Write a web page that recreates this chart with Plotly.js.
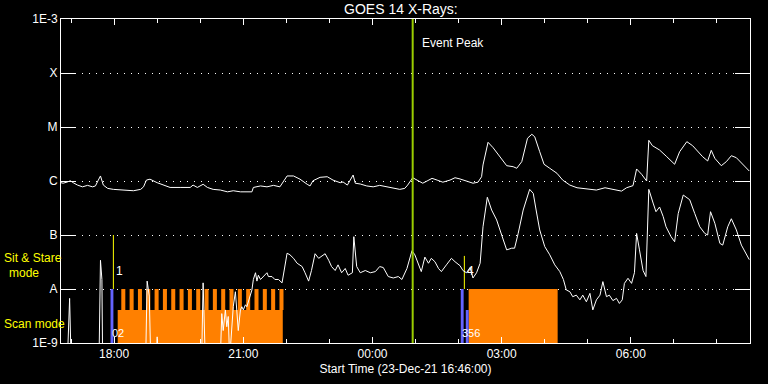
<!DOCTYPE html>
<html><head><meta charset="utf-8">
<script src="https://cdn.plot.ly/plotly-3.0.1.min.js"></script>
<style>html,body{margin:0;padding:0;background:#000;}#chart{width:768px;height:384px;}</style>
</head><body><div id="chart"></div>
<script>
// GOES 14 long channel (1-8 A), W/m^2
const longTimes = ['16:46','16:49','16:55','16:59','17:03','17:09','17:16','17:23','17:30','17:34',
 '17:38','17:41','17:45','17:51','17:59','18:09','18:18','18:27','18:37','18:41',
 '18:45','18:50','19:00','19:09','19:18','19:32','19:46','19:50','19:56','20:04',
 '20:10','20:18','20:28','20:38','20:46','20:56','21:05','21:12','21:14','21:24',
 '21:33','21:42','21:51','22:01','22:10','22:19','22:29','22:33','22:37','22:47',
 '22:57','23:05','23:15','23:19','23:25','23:33','23:36','23:43','23:52','00:01',
 '00:10','00:20','00:29','00:38','00:45','00:49','00:56','01:03','01:10','01:16',
 '01:23','01:30','01:38','01:48','01:55','02:02','02:12','02:20','02:27','02:32',
 '02:34','02:41','02:48','02:57','03:07','03:16','03:21','03:28','03:32','03:36',
 '03:42','03:46','03:53','03:59','04:07','04:17','04:25','04:35','04:45','04:58',
 '05:12','05:24','05:35','05:47','05:54','06:03','06:08','06:15','06:22','06:25',
 '06:30','06:40','06:50','07:01','07:08','07:18','07:26','07:40','07:47','07:52',
 '07:57','08:06','08:13','08:20','08:27','08:36','08:45'];
const longFlux = [9.3e-7,9.1e-7,9.6e-7,1.01e-6,9.3e-7,8.4e-7,7.8e-7,8.3e-7,7.8e-7,8.1e-7,
 1.04e-6,1.24e-6,8.4e-7,7.3e-7,7.0e-7,6.8e-7,6.6e-7,6.6e-7,7.0e-7,7.8e-7,
 1.04e-6,1.08e-6,9.3e-7,8.4e-7,7.6e-7,7.6e-7,7.6e-7,8.4e-7,7.6e-7,8.7e-7,
 7.6e-7,7.0e-7,6.8e-7,6.3e-7,6.6e-7,6.3e-7,6.3e-7,6.3e-7,7.6e-7,8.1e-7,
 7.8e-7,8.3e-7,7.8e-7,1.24e-6,1.24e-6,1.08e-6,8.7e-7,8.1e-7,1.01e-6,1.17e-6,
 1.20e-6,1.04e-6,9.3e-7,9.6e-7,8.4e-7,1.29e-6,9.1e-7,8.8e-7,8.1e-7,7.8e-7,
 8.3e-7,7.8e-7,7.3e-7,7.0e-7,7.3e-7,8.4e-7,1.15e-6,1.04e-6,9.1e-7,1.0e-6,
 1.12e-6,1.04e-6,9.5e-7,1.04e-6,1.15e-6,1.09e-6,9.8e-7,9.1e-7,9.5e-7,1.20e-6,
 1.98e-6,5.21e-6,4.14e-6,2.82e-6,1.92e-6,1.84e-6,1.72e-6,2.28e-6,4.03e-6,6.2e-6,
 7.33e-6,6.61e-6,3.49e-6,2.04e-6,1.72e-6,1.39e-6,1.04e-6,8.4e-7,7.5e-7,7.1e-7,
 6.8e-7,7.5e-7,6.9e-7,6.5e-7,7.5e-7,8.2e-7,1.67e-6,1.33e-6,1.0e-6,5.67e-6,
 4.51e-6,3.75e-6,2.82e-6,2.04e-6,3.49e-6,5.35e-6,4.51e-6,2.82e-6,2.35e-6,3.70e-6,
 2.63e-6,1.92e-6,2.28e-6,2.94e-6,2.70e-6,2.04e-6,1.53e-6];

// GOES 14 short channel (0.5-4 A), W/m^2
const shortTimes = ['16:46','16:55','16:58','17:00','17:39','17:41','17:43','17:44','18:44','18:46',
 '18:49','18:51','18:59','19:00','19:01','20:02','20:04','20:07','20:28','20:30',
 '20:32','20:35','20:37','20:39','20:41','20:46','20:49','20:51','20:53','20:56',
 '20:58','21:00','21:03','21:05','21:07','21:10','21:12','21:14','21:17','21:19',
 '21:21','21:24','21:28','21:33','21:35','21:40','21:44','21:49','21:54','22:01',
 '22:05','22:10','22:15','22:22','22:26','22:31','22:35','22:40','22:45','22:49',
 '22:54','22:59','23:03','23:08','23:12','23:17','23:22','23:26','23:32','23:34',
 '23:38','23:43','23:50','23:57','00:04','00:10','00:15','00:22','00:29','00:36',
 '00:41','00:48','00:55','00:59','01:04','01:08','01:13','01:18','01:22','01:27',
 '01:32','01:36','01:43','01:50','01:55','02:02','02:06','02:11','02:16','02:20',
 '02:25','02:30','02:34','02:40','02:46','02:53','03:00','03:07','03:14','03:18',
 '03:23','03:30','03:39','03:44','03:48','03:53','04:00','04:07','04:14','04:21',
 '04:26','04:30','04:35','04:39','04:44','04:49','04:53','04:58','05:03','05:07',
 '05:12','05:17','05:21','05:26','05:30','05:35','05:40','05:44','05:48','05:51',
 '05:56','06:01','06:05','06:08','06:12','06:17','06:21','06:25','06:31','06:35',
 '06:40','06:45','06:49','06:56','07:01','07:06','07:13','07:22','07:29','07:36',
 '07:43','07:47','07:51','07:57','08:04','08:08','08:15','08:20','08:27','08:34',
 '08:45'];
const shortFlux = [5e-10,5e-10,6.7e-9,5e-10,5e-10,3.4e-8,1.5e-8,5e-10,5e-10,1.4e-8,
 7.4e-9,5e-10,5e-10,1.3e-9,5e-10,5e-10,1.3e-8,5e-10,5e-10,3.5e-9,
 1.7e-9,4.1e-9,2.0e-9,3.1e-9,5e-10,4.7e-9,8.9e-9,4.1e-9,1.7e-9,4.1e-9,
 4.7e-9,4.1e-9,5.1e-9,4.7e-9,5.8e-9,7.2e-9,9.6e-9,1.5e-8,2.0e-8,1.4e-8,
 1.8e-8,1.5e-8,1.7e-8,2.0e-8,1.7e-8,1.7e-8,1.5e-8,1.5e-8,1.3e-8,4.6e-8,
 4.3e-8,3.7e-8,3.0e-8,2.6e-8,2.0e-8,1.4e-8,2.2e-8,4.5e-8,3.7e-8,4.0e-8,
 4.5e-8,3.4e-8,2.6e-8,2.2e-8,2.8e-8,2.0e-8,2.4e-8,1.8e-8,2.0e-8,9.3e-8,
 2.6e-8,2.0e-8,2.2e-8,2.0e-8,2.1e-8,2.6e-8,2.5e-8,1.7e-8,1.6e-8,1.7e-8,
 1.5e-8,2.4e-8,5.1e-8,4.3e-8,3.0e-8,2.1e-8,3.9e-8,3.0e-8,3.7e-8,3.2e-8,
 2.4e-8,2.1e-8,2.8e-8,3.7e-8,3.2e-8,2.7e-8,2.2e-8,2.0e-8,2.5e-8,1.6e-8,
 2.0e-8,3.0e-8,1.42e-7,5.0e-7,2.9e-7,1.9e-7,1.0e-7,5.3e-8,5.7e-8,5.7e-8,
 1.07e-7,2.9e-7,7.0e-7,5.9e-7,2.9e-7,1.24e-7,6.1e-8,4.3e-8,2.8e-8,2.1e-8,
 1.5e-8,9.6e-9,8.9e-9,7.2e-9,7.7e-9,6.3e-9,7.7e-9,5.8e-9,8.3e-9,4.1e-9,
 6.3e-9,7.7e-9,1.37e-8,7.2e-9,7.7e-9,6.1e-9,6.7e-9,5.4e-9,6.3e-9,1.27e-8,
 1.58e-8,1.27e-8,2.0e-8,1.07e-7,5.3e-8,2.2e-8,1.7e-8,7.0e-7,3.9e-7,2.7e-7,
 3.3e-7,2.2e-7,1.42e-7,9.3e-8,7.5e-8,2.5e-7,5.5e-7,4.5e-7,2.5e-7,1.42e-7,
 1.07e-7,1.0e-7,2.7e-7,1.65e-7,7.0e-8,6.5e-8,1.42e-7,2.0e-7,1.24e-7,6.5e-8,
 3.5e-8];

// observing modes
const scanStart = ['18:05','02:14'];
const scanEnd   = ['21:55','04:18'];
const stareStart = ['18:10:00','18:21:36','18:33:12','18:44:48','18:56:24','19:08:00','19:19:36','19:31:12','19:42:48','19:54:24',
 '20:06:00','20:17:36','20:29:12','20:40:48','20:52:24','21:04:00','21:15:36','21:27:12','21:38:48','21:50:24','02:14:00'];
const stareEnd = ['18:15:36','18:27:12','18:38:48','18:50:24','19:02:00','19:13:36','19:25:12','19:36:48','19:48:24','20:00:00',
 '20:11:36','20:23:12','20:34:48','20:46:24','20:58:00','21:09:36','21:21:12','21:32:48','21:44:24','21:56:00','04:18:00'];
const bandLow = 1e-9, scanHigh = 4.1e-9, stareHigh = 1e-8;
const slewStart = ['17:55','02:03','02:10'];
const slewEnd   = ['17:59','02:07','02:14'];
const slewTop   = [1e-8, 1e-8, 4.1e-9];
const markTimes  = ['17:59','02:08'];
const markTop    = [1e-7, 4.1e-8];
const markLabels = ['1','4'];
const eventTimes  = ['17:55','02:03'];
const eventLabels = ['02','356'];
const peakTime = '00:56';
const yTickVals = [1e-9,1e-8,1e-7,1e-6,1e-5,1e-4,1e-3];
const yTickText = ['1E-9','A','B','C','M','X','1E-3'];

function toDate(t){
  const h = parseInt(t.slice(0,2),10);
  const s = t.length === 5 ? t + ':00' : t;
  return (h >= 12 ? '2021-12-23 ' : '2021-12-24 ') + s;
}
function rects(starts, ends, lows, highs){
  const x = [], y = [];
  starts.forEach((s,i)=>{
    const a = toDate(s), b = toDate(ends[i]);
    const lo = Array.isArray(lows) ? lows[i] : lows;
    const hi = Array.isArray(highs) ? highs[i] : highs;
    x.push(a,a,b,b,a,null); y.push(lo,hi,hi,lo,lo,null);
  });
  return {x, y};
}
const FONT = 'Liberation Sans, Arial, sans-serif';
const scanR = rects(scanStart, scanEnd, bandLow, scanHigh);
const stareR = rects(stareStart, stareEnd, scanHigh, stareHigh);
const slewR = rects(slewStart, slewEnd, bandLow, slewTop);
const markX = [], markY = [];
markTimes.forEach((t,i)=>{ markX.push(toDate(t),toDate(t),null); markY.push(stareHigh, markTop[i], null); });

const traces = [
  {x: scanR.x, y: scanR.y, mode:'lines', fill:'toself', fillcolor:'#ff8000', line:{width:0,color:'#ff8000'}, hoverinfo:'skip'},
  {x: stareR.x, y: stareR.y, mode:'lines', fill:'toself', fillcolor:'#ff8000', line:{width:0,color:'#ff8000'}, hoverinfo:'skip'},
  {x: slewR.x, y: slewR.y, mode:'lines', fill:'toself', fillcolor:'#6464ff', line:{width:0,color:'#6464ff'}, hoverinfo:'skip'},
  {x: markX, y: markY, mode:'lines', line:{color:'#ffff00', width:1}},
  {x: longTimes.map(toDate), y: longFlux, mode:'lines', line:{color:'#ffffff', width:1}},
  {x: shortTimes.map(toDate), y: shortFlux, mode:'lines', line:{color:'#ffffff', width:1}},
  {x: [toDate(peakTime), toDate(peakTime)], y: [1e-9, 1e-3], mode:'lines', line:{color:'#9acd00', width:2}}
];

const ann = [
  {text:'Event Peak', x: toDate('01:06'), y: 0.926, xref:'x', yref:'paper', xanchor:'left', yanchor:'middle', showarrow:false, font:{family:FONT,size:12,color:'#fff'}},
  {text:'Sit & Stare', x: -0.086, y: 0.262, xref:'paper', yref:'paper', xanchor:'left', yanchor:'middle', showarrow:false, font:{family:FONT,size:12,color:'#ffff00'}},
  {text:'mode', x: -0.054, y: 0.216, xref:'paper', yref:'paper', xanchor:'center', yanchor:'middle', showarrow:false, font:{family:FONT,size:12,color:'#ffff00'}},
  {text:'Scan mode', x: -0.086, y: 0.058, xref:'paper', yref:'paper', xanchor:'left', yanchor:'middle', showarrow:false, font:{family:FONT,size:12,color:'#ffff00'}}
];
markTimes.forEach((t,i)=>ann.push({text:markLabels[i], x: toDate(t), y: 0.222, xref:'x', yref:'paper', xanchor:'left', yanchor:'middle', xshift:1, showarrow:false, font:{family:FONT,size:12,color:'#fff'}}));
eventTimes.forEach((t,i)=>ann.push({text:eventLabels[i], x: toDate(t), y: 0.03, xref:'x', yref:'paper', xanchor:'left', yanchor:'middle', xshift:-1, showarrow:false, font:{family:FONT,size:11,color:'#fff'}}));

const layout = {
  width:768, height:384,
  paper_bgcolor:'#000', plot_bgcolor:'#000',
  margin:{l:61, r:18, t:19, b:41},
  showlegend:false,
  font:{family:FONT, size:12, color:'#fff'},
  title:{text:'GOES 14 X-Rays:', font:{family:FONT, size:14, color:'#fff'}, xref:'container', x:0.522, xanchor:'center', yref:'container', y:0.977, yanchor:'middle'},
  xaxis:{type:'date', range:[toDate('16:46'), toDate('08:46')], tickformat:'%H:%M', dtick:10800000, tick0:toDate('18:00'),
    ticks:'inside', ticklen:6, tickcolor:'#fff', tickwidth:1, showline:true, linecolor:'#fff', linewidth:1, mirror:'ticks',
    showgrid:false, zeroline:false, tickfont:{family:FONT,size:12,color:'#fff'},
    minor:{dtick:3600000, tick0:toDate('18:00'), ticks:'inside', ticklen:4, tickcolor:'#fff', showgrid:false},
    title:{text:'Start Time (23-Dec-21 16:46:00)', font:{family:FONT,size:12,color:'#fff'}, standoff:4}},
  yaxis:{type:'log', range:[-9,-3], tickvals:yTickVals, ticktext:yTickText, ticks:'inside', ticklen:15, tickcolor:'#fff', tickwidth:1,
    showline:true, linecolor:'#fff', linewidth:1, mirror:'ticks', showgrid:true, gridcolor:'#fff', gridwidth:1, griddash:'1px,6px',
    zeroline:false, tickfont:{family:FONT,size:12,color:'#fff'}},
  annotations: ann
};
Plotly.newPlot('chart', traces, layout, {staticPlot:true, displayModeBar:false});
</script>
</body></html>
